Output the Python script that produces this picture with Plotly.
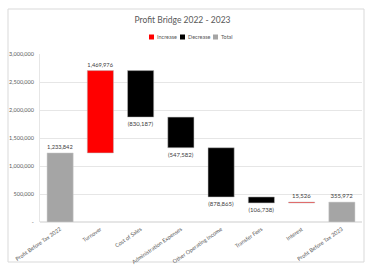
import plotly.graph_objects as go

categories = ["Profit Before Tax 2022", "Turnover", "Cost of Sales", "Administration Expenses",
              "Other Operating Income", "Transfer Fees", "Interest", "Profit Before Tax 2023"]
values = [1233842, 1469976, -830187, -547582, -878865, -106738, 15526, 355972]
measures = ["absolute", "relative", "relative", "relative", "relative", "relative", "relative", "total"]
tick_vals = [0, 500000, 1000000, 1500000, 2000000, 2500000, 3000000]
tick_text = ["-", "500,000", "1,000,000", "1,500,000", "2,000,000", "2,500,000", "3,000,000"]
legend_names = ["Increase", "Decrease", "Total"]
legend_colors = ["#FF0000", "#000000", "#A5A5A5"]

labels = [f"{v:,}" if v >= 0 else f"({-v:,})" for v in values]

FONT = "Lato"
fig = go.Figure()
fig.add_trace(go.Waterfall(
    x=categories, y=values, measure=measures,
    text=labels, textposition="outside", texttemplate="%{text}",
    textfont=dict(size=6, color="#404040", family=FONT),
    increasing=dict(marker=dict(color=legend_colors[0], line=dict(color="#BFBFBF", width=0.5))),
    decreasing=dict(marker=dict(color=legend_colors[1], line=dict(color="#BFBFBF", width=0.5))),
    totals=dict(marker=dict(color=legend_colors[2], line=dict(color="#D0D0D0", width=0.5))),
    connector=dict(visible=False),
    width=0.65, showlegend=False, cliponaxis=False,
))

# manual legend (paper coords)
def px_x(x):
    return (x - 40) / 322

def px_y(y):
    return (222 - y) / 168

shapes = [dict(type="rect", xref="paper", yref="paper", x0=px_x(8), x1=px_x(364), y0=px_y(262), y1=px_y(9),
               line=dict(color="#D9D9D9", width=1), fillcolor="rgba(0,0,0,0)", layer="below")]
annotations = []
for name, col, sx in zip(legend_names, legend_colors, [149, 180, 213]):
    shapes.append(dict(type="rect", xref="paper", yref="paper", x0=px_x(sx), x1=px_x(sx + 5),
                       y0=px_y(39.5), y1=px_y(34.5), fillcolor=col, line=dict(width=0)))
    annotations.append(dict(text=name, xref="paper", yref="paper", x=px_x(sx + 6), y=px_y(37),
                            xanchor="left", yanchor="middle", showarrow=False,
                            font=dict(size=5.5, color="#595959", family=FONT)))

fig.update_layout(
    width=365, height=267,
    margin=dict(l=40, r=3, t=54, b=45),
    paper_bgcolor="white", plot_bgcolor="white",
    title=dict(text="Profit Bridge 2022 - 2023", x=0.5, xanchor="center", y=0.925, yanchor="middle",
               font=dict(size=8.5, color="#595959", family=FONT)),
    showlegend=False,
    font=dict(family=FONT, size=6, color="#595959"),
    shapes=shapes, annotations=annotations,
)
fig.update_xaxes(tickangle=-35, tickfont=dict(size=5.5, color="#595959"), showgrid=False,
                 showline=False, ticks="", automargin=False, ticklabelstandoff=2)
fig.update_yaxes(range=[0, 3000000], tickvals=tick_vals, ticktext=tick_text,
                 tickfont=dict(size=5.5, color="#595959"), showgrid=True, gridcolor="#E6E6E6",
                 gridwidth=1, showline=True, linecolor="#E6E6E6", zeroline=True,
                 zerolinecolor="#E6E6E6", ticks="", automargin=False, ticklabelstandoff=4)
fig.write_html("out.html", config={"displayModeBar": False},
               post_script="document.body.style.margin='0';")
